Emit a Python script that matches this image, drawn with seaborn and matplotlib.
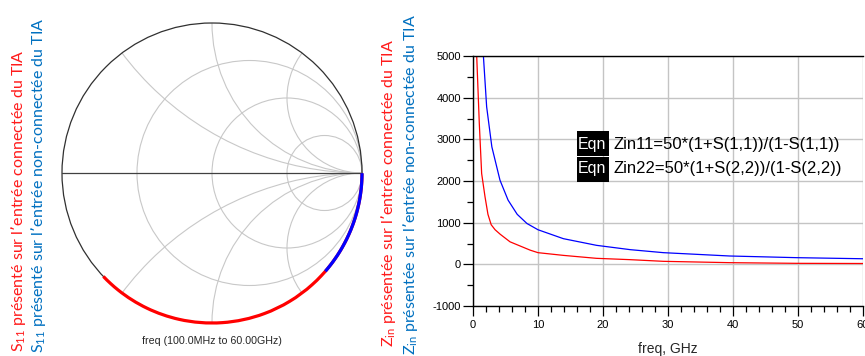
import numpy as np
import pandas as pd
import matplotlib
matplotlib.use("Agg")
import matplotlib.pyplot as plt
import seaborn as sns
from matplotlib.patches import Circle, Rectangle
from matplotlib.ticker import MultipleLocator

# ---------------- data ----------------
# |Zin| (ohm) vs frequency (GHz), TIA input connected (red)
freq_conn = [0.1, 0.57, 0.97, 1.33, 1.85, 2.3, 2.8, 3.4, 4.2, 5.7, 8.8, 10, 13.9, 19, 24.2, 29.3, 39.5, 49.8, 60]
zin_conn = [28000, 5000, 3380, 2180, 1620, 1200, 950, 830, 720, 540, 340, 280, 215, 144, 112, 72, 40, 24, 20]
# |Zin| (ohm) vs frequency (GHz), TIA input not connected (blue)
freq_nc = [0.1, 1.6, 2.1, 2.9, 4.15, 5.4, 6.8, 8.3, 10, 13.9, 19, 24.2, 29.3, 39.5, 49.8, 60]
zin_nc = [80000, 5000, 3780, 2820, 2020, 1540, 1200, 980, 830, 616, 456, 352, 280, 200, 160, 134]
Z0 = 50.0

x_ticks = [0, 10, 20, 30, 40, 50, 60]
y_ticks = [-1000, 0, 1000, 2000, 3000, 4000, 5000]
smith_r = [1 / 3, 1, 3]
smith_x = [0.5, 1, 2]

label_s_conn = r"$\mathregular{S_{11}}$ présenté sur l’entrée connectée du TIA"
label_s_nc = r"$\mathregular{S_{11}}$ présenté sur l’entrée non-connectée du TIA"
label_z_conn = r"$\mathregular{Z_{in}}$ présentée sur l’entrée connectée du TIA"
label_z_nc = r"$\mathregular{Z_{in}}$ présentée sur l’entrée non-connectée du TIA"
eqn_lines = ["Zin11=50*(1+S(1,1))/(1-S(1,1))", "Zin22=50*(1+S(2,2))/(1-S(2,2))"]
smith_caption = "freq (100.0MHz to 60.00GHz)"
x_label = "freq, GHz"

RED = "#ff0000"
BLUE = "#0000ff"
LBL_RED = "#ff1a1a"
LBL_BLUE = "#0070c0"

# ---------------- style ----------------
sns.set_style("white")
plt.rcParams['font.family'] = ['Liberation Sans', 'DejaVu Sans']

W, H = 865, 356
fig = plt.figure(figsize=(W / 100, H / 100), dpi=100)


def fx(px):
    return px / W


def fy(py):
    return 1 - py / H


# ---------------- Smith chart ----------------
R = 150.0
cx, cy = 212.0, 173.0
lim = 1.05
half = R * lim
box = [fx(cx - half), fy(cy + half), 2 * half / W, 2 * half / H]
ax_s = fig.add_axes(box)
ax_s.set_xlim(-lim, lim)
ax_s.set_ylim(-lim, lim)
ax_s.axis('off')
grid_col = '#c8c8c8'
unit = Circle((0, 0), 1, transform=ax_s.transData)
for r in smith_r:
    c = Circle((r / (1 + r), 0), 1 / (1 + r), fill=False, ec=grid_col, lw=0.8)
    ax_s.add_patch(c)
for xv in smith_x:
    for s in (1, -1):
        c = Circle((1, s / xv), 1 / xv, fill=False, ec=grid_col, lw=0.8)
        ax_s.add_patch(c)
        c.set_clip_path(unit)
ax_s.add_patch(Circle((0, 0), 1, fill=False, ec='#303030', lw=0.9))
ax_s.plot([-1, 1], [0, 0], color='#404040', lw=0.9)

# reflection coefficient traces: Gamma = (Z - Z0)/(Z + Z0), Z = -jX  (|Gamma| = 1)
ax_p = fig.add_axes(box, projection='polar')
ax_p.set_ylim(0, lim)
ax_p.axis('off')
ax_p.patch.set_alpha(0)
th_conn = -2 * np.arctan(Z0 / np.asarray(zin_conn, float))
th_nc = -2 * np.arctan(Z0 / np.asarray(zin_nc, float))
for th, col in ((th_conn, RED), (th_nc, BLUE)):
    ln, = ax_p.plot(th, np.ones_like(th), color=col, lw=2.3, solid_capstyle='butt')
    # let the polar transform draw the segments as arcs of the unit circle
    ln.get_path()._interpolation_steps = 64

fig.text(fx(212), fy(341), smith_caption, ha='center', va='center', fontsize=7.7)

# ---------------- Zin chart ----------------
ax = fig.add_axes([fx(473), fy(306), (863 - 473) / W, 250 / H])
sns.lineplot(x=freq_conn, y=zin_conn, color=RED, lw=0.9, ax=ax, sort=False, estimator=None)
sns.lineplot(x=freq_nc, y=zin_nc, color=BLUE, lw=0.9, ax=ax, sort=False, estimator=None)
ax.set_xlim(0, 60)
ax.set_ylim(-1000, 5000)
ax.set_xticks(x_ticks)
ax.set_yticks(y_ticks)
ax.set_xticklabels([str(v) for v in x_ticks])
ax.set_yticklabels([str(v) for v in y_ticks])
ax.xaxis.set_minor_locator(MultipleLocator(2))
ax.yaxis.set_minor_locator(MultipleLocator(500))
ax.grid(True, which='major', color='#c4c4c4', lw=1.0)
ax.set_axisbelow(True)
for sp in ['top', 'left', 'bottom']:
    ax.spines[sp].set_color('black')
    ax.spines[sp].set_linewidth(1.0)
    ax.spines[sp].set_visible(True)
ax.spines['right'].set_visible(False)
ax.tick_params(which='major', direction='out', length=7.2, width=0.9, color='black',
               labelsize=8, labelcolor='black', bottom=True, left=True, pad=3)
ax.tick_params(which='minor', direction='out', length=4.3, width=0.9, color='black',
               bottom=True, left=True)
ax.tick_params(axis='y', which='major', pad=1.5)
ax.set_xlabel("")
ax.set_ylabel("")
fig.text(fx(668), fy(349), x_label, ha='center', va='center', fontsize=10)

# equation boxes
for i, line in enumerate(eqn_lines):
    top = 130.5 + i * 26
    fig.patches.append(Rectangle((fx(577), fy(top + 25)), 32 / W, 25 / H,
                                 transform=fig.transFigure, facecolor='black',
                                 edgecolor='none'))
    base = 149 + i * 23.5
    fig.text(fx(578), fy(base), "Eqn", color='white', fontsize=11.5, va='baseline', ha='left')
    fig.text(fx(613), fy(base), line, color='black', fontsize=12, va='baseline', ha='left')

# rotated side labels
lab_font = ['Lato', 'DejaVu Sans']
fig.text(fx(19), fy(352), label_s_conn, rotation=90, ha='center', va='bottom',
         color=LBL_RED, fontsize=11.5, family=lab_font)
fig.text(fx(39), fy(353), label_s_nc, rotation=90, ha='center', va='bottom',
         color=LBL_BLUE, fontsize=11.5, family=lab_font)
fig.text(fx(389), fy(347), label_z_conn, rotation=90, ha='center', va='bottom',
         color=LBL_RED, fontsize=11.5, family=lab_font)
fig.text(fx(410), fy(355), label_z_nc, rotation=90, ha='center', va='bottom',
         color=LBL_BLUE, fontsize=11.5, family=lab_font)

fig.savefig("out.png", dpi=100)
